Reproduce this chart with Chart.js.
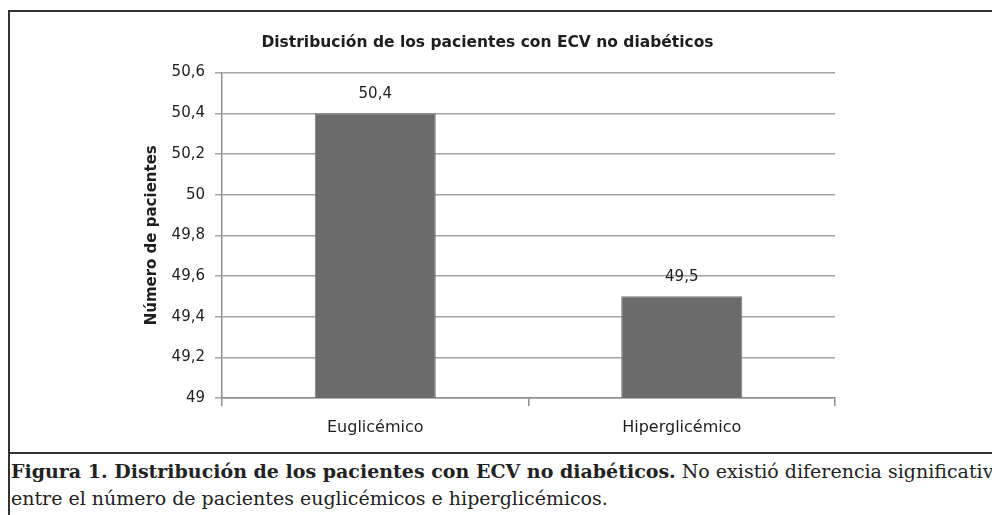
<!DOCTYPE html>
<html>
<head>
<meta charset="utf-8">
<script src="https://cdn.jsdelivr.net/npm/chart.js@4.4.1/dist/chart.umd.min.js"></script>
<style>
    html, body { margin: 0; padding: 0; background: #fff; overflow: hidden; }
    body { width: 992px; height: 515px; position: relative; }
    .rule { position: absolute; background: #333; }
    #ruleTop { left: 8px; top: 10px; width: 984px; height: 2px; }
    #ruleLeft { left: 8px; top: 10px; width: 2px; height: 505px; }
    #ruleSep { left: 8px; top: 452px; width: 984px; height: 2px; }
    #chart { position: absolute; left: 0; top: 0; }
    #caption {
        position: absolute; left: 11px; top: 458px; white-space: nowrap;
        font-family: 'DejaVu Serif', serif;
        font-size: 19px; line-height: 27px; color: #222;
    }
    #caption b { font-weight: bold; }
</style>
</head>
<body>
<div class="rule" id="ruleTop"></div>
<div class="rule" id="ruleLeft"></div>
<div class="rule" id="ruleSep"></div>
<canvas id="chart" width="992" height="452"></canvas>
<div id="caption"><b>Figura 1. Distribución de los pacientes con ECV no diabéticos.</b> No existió diferencia significativa<br>entre el número de pacientes euglicémicos e hiperglicémicos.</div>

<script>
    // === Data ===
    const categories = ['Euglicémico', 'Hiperglicémico'];
    const pacientes = [50.4, 49.5];
    const valueLabels = ['50,4', '49,5'];
    const yTickLabels = ['49', '49,2', '49,4', '49,6', '49,8', '50', '50,2', '50,4', '50,6'];

    // Colors
    const barGray = '#6b6b6b';
    const gridGray = '#a3a3a3';
    const axisGray = '#8e8e8e';
    const textDark = '#1e1e1e';

    // Value labels above each bar
    const barLabels = {
        id: 'barLabels',
        afterDatasetsDraw(chart) {
            const ctx = chart.ctx;
            const meta = chart.getDatasetMeta(0);
            ctx.save();
            ctx.font = '15px "DejaVu Sans"';
            ctx.fillStyle = textDark;
            ctx.textAlign = 'center';
            ctx.textBaseline = 'middle';
            meta.data.forEach((bar, i) => {
                ctx.fillText(valueLabels[i], bar.x, bar.y - 19);
            });
            ctx.restore();
        }
    };

    const ctx = document.getElementById('chart').getContext('2d');
    const chart = new Chart(ctx, {
        type: 'bar',
        data: {
            labels: categories,
            datasets: [{
                data: pacientes,
                backgroundColor: barGray,
                borderColor: '#7a7a7a',
                borderWidth: 1,
                barPercentage: 0.395,
                categoryPercentage: 1
            }]
        },
        options: {
            responsive: false,
            animation: false,
            devicePixelRatio: 1,
            layout: {
                padding: { left: 140, right: 157, top: 0, bottom: 0 }
            },
            plugins: {
                legend: { display: false },
                tooltip: { enabled: false },
                title: {
                    display: true,
                    text: 'Distribución de los pacientes con ECV no diabéticos',
                    color: textDark,
                    font: { family: 'DejaVu Sans', size: 15.5, weight: 'bold' },
                    padding: { top: 34, bottom: 20 }
                }
            },
            scales: {
                x: {
                    afterFit: (scale) => { scale.height = 54; },
                    border: { display: true, color: axisGray, width: 1.5 },
                    grid: {
                        offset: true,
                        drawOnChartArea: false,
                        drawTicks: true,
                        tickLength: 8,
                        color: axisGray,
                        lineWidth: 1.5
                    },
                    ticks: {
                        color: textDark,
                        padding: 12,
                        font: { family: 'DejaVu Sans', size: 16 }
                    }
                },
                y: {
                    min: 49,
                    max: 50.6,
                    afterFit: (scale) => { scale.width = 82; },
                    border: { display: true, color: axisGray, width: 1.5 },
                    grid: {
                        color: gridGray,
                        lineWidth: 1.5,
                        tickLength: 7
                    },
                    ticks: {
                        stepSize: 0.2,
                        color: textDark,
                        padding: 10,
                        font: { family: 'DejaVu Sans', size: 15 },
                        callback: (value, index) => yTickLabels[index]
                    },
                    title: {
                        display: true,
                        text: 'Número de pacientes',
                        color: textDark,
                        font: { family: 'DejaVu Sans', size: 15, weight: 'bold' },
                        padding: { top: 3, bottom: 0 }
                    }
                }
            }
        },
        plugins: [barLabels]
    });
</script>
</body>
</html>
